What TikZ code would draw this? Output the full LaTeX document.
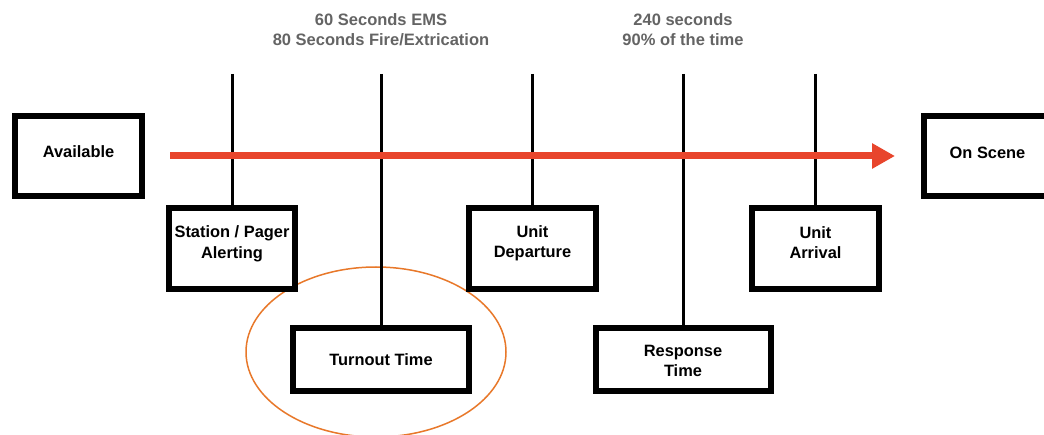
\documentclass[tikz,border=0pt]{standalone}
\usepackage{fontspec}
\setmainfont{Liberation Sans}
\usetikzlibrary{arrows.meta,shapes.geometric}
\definecolor{arrowred}{RGB}{232,69,44}
\definecolor{ringorange}{RGB}{232,120,42}
\definecolor{notegray}{RGB}{100,100,100}
\tikzset{
  box/.style={draw=black, line width=6pt, fill=white, rectangle, inner sep=0pt},
  boxtext/.style={align=center, inner sep=0pt, font=\bfseries\fontsize{16.4}{20.5}\selectfont},
  tick/.style={draw=black, line width=3pt},
  note/.style={align=center, text=notegray, font=\bfseries\fontsize{16.5}{20}\selectfont},
  timeline/.style={draw=arrowred, line width=7pt, -{Triangle[length=23pt,width=24pt]}},
  ring/.style={draw=ringorange, line width=1.5pt, ellipse, minimum width=260pt, minimum height=170pt, inner sep=0pt}
}
\begin{document}
\begin{tikzpicture}[x=1pt,y=-1pt]
\useasboundingbox (0,0) rectangle (1044,435);
\clip (0,0) rectangle (1044,435);
\fill[white] (0,0) rectangle (1044,435);

% orange ring
\node[ring] (ring) at (376,352) {};

% top notes
\node[note] (n1) at (381,30) {60 Seconds EMS\\80 Seconds Fire/Extrication};
\node[note] (n2) at (683,30) {240 seconds\\90\% of the time};

% tick tops
\coordinate (t1) at (232,74);
\coordinate (t2) at (381,74);
\coordinate (t3) at (532.5,74);
\coordinate (t4) at (683,74);
\coordinate (t5) at (815.5,74);

% boxes
\node[box, minimum width=127pt, minimum height=80pt,
  label={[boxtext,yshift=4pt]center:Available}] (avail) at (78.5,156) {};
\node[box, minimum width=127pt, minimum height=80pt,
  label={[boxtext,yshift=3pt]center:On Scene}] (scene) at (987.5,156) {};
\node[box, minimum width=126pt, minimum height=81pt,
  label={[boxtext,yshift=4.5pt]center:Station / Pager\\Alerting}] (station) at (232,248.5) {};
\node[box, minimum width=127pt, minimum height=81pt,
  label={[boxtext,yshift=5pt]center:Unit\\Departure}] (depart) at (532.5,248.5) {};
\node[box, minimum width=127pt, minimum height=81pt,
  label={[boxtext,yshift=6pt]center:Unit\\Arrival}] (arrive) at (815.5,248.5) {};
\node[box, minimum width=176pt, minimum height=63pt,
  label={[boxtext]center:Turnout Time}] (turnout) at (381,359.5) {};
\node[box, minimum width=175pt, minimum height=63pt,
  label={[boxtext,yshift=-1.5pt]center:Response\\Time}] (response) at (683,359.5) {};

% ticks
\draw[tick] (t1) -- (station.north);
\draw[tick] (t2) -- (turnout.north);
\draw[tick] (t3) -- (depart.north);
\draw[tick] (t4) -- (response.north);
\draw[tick] (t5) -- (arrive.north);

% red timeline
\draw[timeline, shorten <=25pt, shorten >=26pt] (avail.east) -- (scene.west);
\end{tikzpicture}
\end{document}
